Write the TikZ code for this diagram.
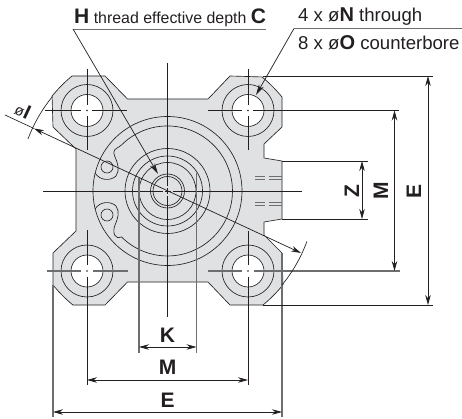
\documentclass[tikz,border=0pt]{standalone}
\usepackage{fontspec}
\setmainfont{Liberation Sans}
\usetikzlibrary{arrows.meta}
\definecolor{ink}{HTML}{231F20}
\definecolor{bodyfill}{HTML}{E0E1E3}
\definecolor{greyline}{HTML}{6D6E70}
\tikzset{
  ln/.style={draw=ink,line width=0.65pt},
  gl/.style={draw=greyline,line width=1.1pt},
  dimline/.style={draw=ink,line width=0.7pt,{Stealth[length=10pt,width=5.5pt]}-{Stealth[length=10pt,width=5.5pt]}},
  leader/.style={draw=ink,line width=0.7pt,-{Stealth[length=11pt,width=5.5pt]}},
  big/.style={font=\fontsize{21}{21}\selectfont\bfseries,text=ink,inner sep=0pt},
  txt/.style={font=\fontsize{18.6}{19}\selectfont,text=ink,inner sep=0pt,anchor=base west},
}
\newcommand{\hole}[1]{
  \fill[white] (#1) circle[radius=16pt];
  \draw[ln] (#1) circle[radius=16pt];
  \draw[ln] (#1) circle[radius=26pt];
}
\begin{document}
\begin{tikzpicture}[x=1pt,y=-1pt]
\useasboundingbox (0,0) rectangle (462,419);
\coordinate (c) at (167.5,191);
% body
\path[fill=bodyfill,draw=ink,line width=0.65pt,line join=round]
  (72,76) arc[start angle=129.7,end angle=140.6,radius=149pt]
  -- (53,127) -- (76,149) -- (76,231) -- (53,253) -- (53,285)
  arc[start angle=219.4,end angle=230.3,radius=149pt]
  -- (105,305) -- (127.5,282) -- (208,282) -- (230,305) -- (263,305)
  arc[start angle=309.7,end angle=320.6,radius=149pt]
  -- (282,253) -- (264,235) -- (264,222) -- (282,219) -- (282,161)
  -- (264,158) -- (264,144) -- (282,127) -- (282,97)
  arc[start angle=39.4,end angle=50.3,radius=149pt]
  -- (230,76) -- (208,99) -- (127.5,99) -- (105,76) -- cycle;
% holes
\coordinate (h1) at (87,110.5);
\coordinate (h2) at (248,110.5);
\coordinate (h3) at (87,271);
\coordinate (h4) at (248,271);
\hole{h1}\hole{h2}\hole{h3}\hole{h4}
% concentric circles
\draw[ln] (c) circle[radius=74.5pt];
\draw[ln] (c) circle[radius=42.5pt];
\draw[ln] (c) circle[radius=35pt];
\draw[ln] (c) circle[radius=28.5pt];
\draw[ln] (c) circle[radius=17pt];
\draw[ln] (c) circle[radius=14.5pt];
% pocket outline
\draw[ln] (121.5,145) arc[start angle=135,end angle=-135,radius=65pt]
  .. controls (115,240) and (112,233) .. (115,225)
  .. controls (118,218) and (120,212) .. (116,206)
  .. controls (111,201) and (100,201) .. (95,209);
\draw[ln] (121.5,145) .. controls (115,150) and (112,149) .. (115,157)
  .. controls (118,164) and (120,170) .. (116,176)
  .. controls (111,181) and (100,181) .. (95,173);
\draw[ln] (107,167) circle[radius=6pt];
\draw[ln] (107,215) circle[radius=6pt];
% port dashes
\foreach \yy in {176.5,179.5,202.5,205.5}{
  \draw[greyline,line width=0.7pt] (255,\yy) -- (265,\yy) (269,\yy) -- (281.5,\yy);
}
% centre lines
\draw[ln] (167.5,63) -- (167.5,186) (167.5,188) -- (167.5,194) (167.5,196) -- (167.5,316.5);
\draw[ln] (43,191) -- (162.5,191) (164.5,191) -- (170.5,191) (172.5,191) -- (302,191);
% hole centre lines
\draw[ln] (87,69) -- (87,105) (87,116) -- (87,150);
\draw[ln] (45,110.5) -- (81,110.5) (92,110.5) -- (127,110.5);
\draw[ln] (248,69) -- (248,105) (248,116) -- (248,150);
\draw[ln] (208,110.5) -- (242,110.5) (253,110.5) -- (399,110.5);
\draw[ln] (87,230) -- (87,265) (87,277) -- (87,385);
\draw[gl] (47,271) -- (81,271) (93,271) -- (128,271);
\draw[ln] (248,231) -- (248,265) (248,277) -- (248,385);
\draw[gl] (208,271) -- (242,271) (254,271) -- (400,271);
\foreach \h in {h1,h2,h3,h4}{\fill[ink] (\h) circle[radius=0.8pt];}
% K extension
\draw[gl] (139,178) -- (139,352.5);
\draw[gl] (196.5,173) -- (196.5,352.5);
% outer extensions
\draw[gl] (53,285) -- (53,417);
\draw[gl] (282,253) -- (282,417);
\draw[ln] (263,76) -- (433,76);
\draw[ln] (263,305) -- (433,305);
\draw[ln] (282,161) -- (368,161);
\draw[ln] (282,219) -- (368,219);
% outer arc extensions
\draw[ln] (28,139) arc[start angle=159.5,end angle=140.6,radius=149pt];
\draw[ln] (282,285) arc[start angle=-39.4,end angle=-20,radius=149pt];
% dimensions
\draw[dimline] (139,347) -- (196.5,347);
\draw[dimline] (87,380) -- (248,380);
\draw[dimline] (53,412) -- (282,412);
\draw[dimline] (428,76) -- (428,305);
\draw[dimline] (394.5,110.5) -- (394.5,271);
\draw[dimline] (362,161) -- (362,219);
% diameter line
\draw[ln] (5,115) -- (34,128.5);
\draw[dimline] (34,128.5) -- (301,253);
% leaders
\draw[gl,line width=0.9pt] (73,29) -- (266,29);
\draw[gl,line width=0.9pt] (294,28.5) -- (462,28.5);
\draw[leader] (73,29) -- (158,174);
\draw[leader] (294,28.5) -- (256,95);
% labels
\node[big] (K) at (167.5,335) {K};
\node[big] (M) at (167.5,367) {M};
\node[big] (E) at (167.5,400) {E};
\node[big,rotate=90] (Z) at (352,191) {Z};
\node[big,rotate=90] (M2) at (381,191) {M};
\node[big,rotate=90] (E2) at (414,191) {E};
\node[txt] (t1) at (74,24) {\fontsize{21}{21}\selectfont\bfseries H\fontsize{15.9}{18}\mdseries\selectfont\ thread effective depth \fontsize{21}{21}\selectfont\bfseries C};
\node[txt] (t2) at (298,22) {4 x ø{\fontsize{20}{20}\selectfont\bfseries N} through};
\node[txt] (t3) at (298,50) {8 x ø{\fontsize{20}{20}\selectfont\bfseries O} counterbore};
\node[rotate=-25,inner sep=0pt,text=ink] (d) at (23,111) {\fontsize{15}{15}\selectfont ø\fontsize{20}{20}\selectfont\bfseries I};
\end{tikzpicture}
\end{document}
